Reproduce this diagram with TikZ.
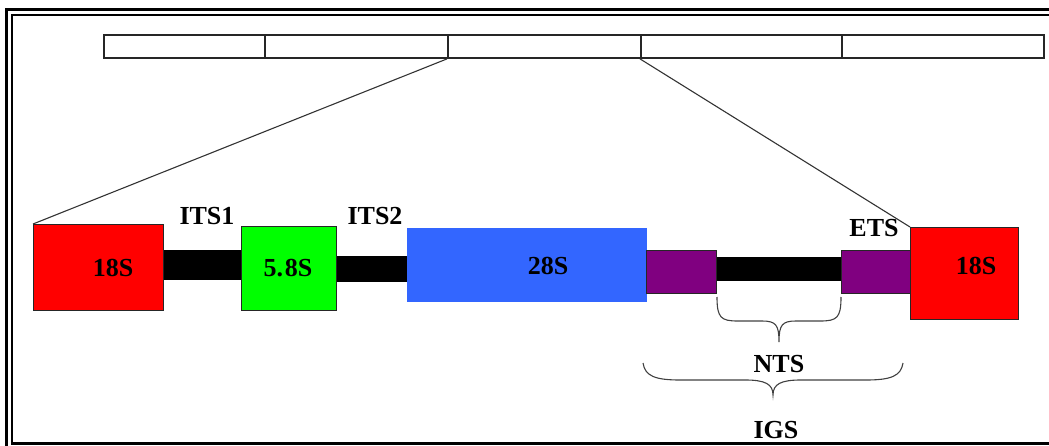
\documentclass[tikz,border=0pt]{standalone}
\usepackage{fontspec}
\setmainfont{Liberation Serif}
\begin{document}
\begin{tikzpicture}[x=1pt,y=-1pt,
  lab/.style={font=\fontsize{26}{29}\selectfont\bfseries, inner sep=0pt},
  seg/.style={draw=black!85, line width=1.9pt, minimum height=23pt, inner sep=0pt, anchor=north west},
  gene/.style={draw=black!85, line width=1pt, inner sep=0pt, anchor=north west},
  spacer/.style={fill=black, inner sep=0pt, anchor=north west},
  brace/.style={draw=black!75, line width=1.1pt}]
\useasboundingbox (0,0) rectangle (1049,446);
\clip (0,0) rectangle (1049,446);
% frame
\draw[line width=2.8pt] (6.5,9.8) rectangle (1070,470);
\draw[line width=2.8pt] (12,15) rectangle (1060,443.5);
% top bar
\node[seg, minimum width=161pt] (b1) at (103,34) {};
\node[seg, minimum width=183pt] (b2) at (264,34) {};
\node[seg, minimum width=193pt] (b3) at (447,34) {};
\node[seg, minimum width=201pt] (b4) at (640,34) {};
\node[seg, minimum width=202pt] (b5) at (841,34) {};
% spacers
\node[spacer, minimum width=80pt, minimum height=30pt] (its1) at (162,250) {};
\node[spacer, minimum width=76pt, minimum height=26pt] (its2) at (333,256) {};
\node[spacer, minimum width=126pt, minimum height=24pt] (nts) at (715,257) {};
% genes
\node[gene, fill=red, minimum width=130pt, minimum height=86pt] (s18a) at (33,224) {};
\node[gene, fill=green, minimum width=95pt, minimum height=84pt] (s58) at (241,226) {};
\node[fill={rgb,255:red,51;green,102;blue,255}, inner sep=0pt, anchor=north west, minimum width=240pt, minimum height=74pt] (s28) at (407,228) {};
\node[gene, fill={rgb,255:red,128;green,0;blue,128}, minimum width=70pt, minimum height=43pt] (ets1) at (646,250) {};
\node[gene, fill={rgb,255:red,128;green,0;blue,128}, minimum width=69pt, minimum height=43pt] (ets2) at (841,250) {};
\node[gene, fill=red, minimum width=108pt, minimum height=92pt] (s18b) at (910,227) {};
% labels
\node[lab] (t18a) at (113,268) {18S};
\node[lab] (t58) at (288,268) {5.\kern2pt8S};
\node[lab] (t28) at (548,266) {28S};
\node[lab] (t18b) at (976,266) {18S};
\node[lab] (tits1) at (207,216) {ITS1};
\node[lab] (tits2) at (375,216) {ITS2};
\node[lab] (tets) at (874,228) {ETS};
\node[lab] (tnts) at (779,364) {NTS};
\node[lab] (tigs) at (776,430) {IGS};
% zoom lines
\draw[line width=1.1pt, black!80] (b3.south west) -- (s18a.north west);
\draw[line width=1.1pt, black!80] (b4.south west) -- (s18b.north west);
% braces
\draw[brace] (717,297) .. controls (717,318) and (721,321) .. (738,321) -- (762,321)
  .. controls (776,321) and (779,325) .. (779,342)
  .. controls (779,325) and (782,321) .. (796,321) -- (820,321)
  .. controls (837,321) and (841,318) .. (841,297);
\draw[brace] (643,363) .. controls (645,376) and (655,380) .. (680,380) -- (745,380)
  .. controls (765,380) and (773,384) .. (773,395)
  .. controls (773,384) and (781,380) .. (801,380) -- (866,380)
  .. controls (891,380) and (901,376) .. (903,363);
\end{tikzpicture}
\end{document}
